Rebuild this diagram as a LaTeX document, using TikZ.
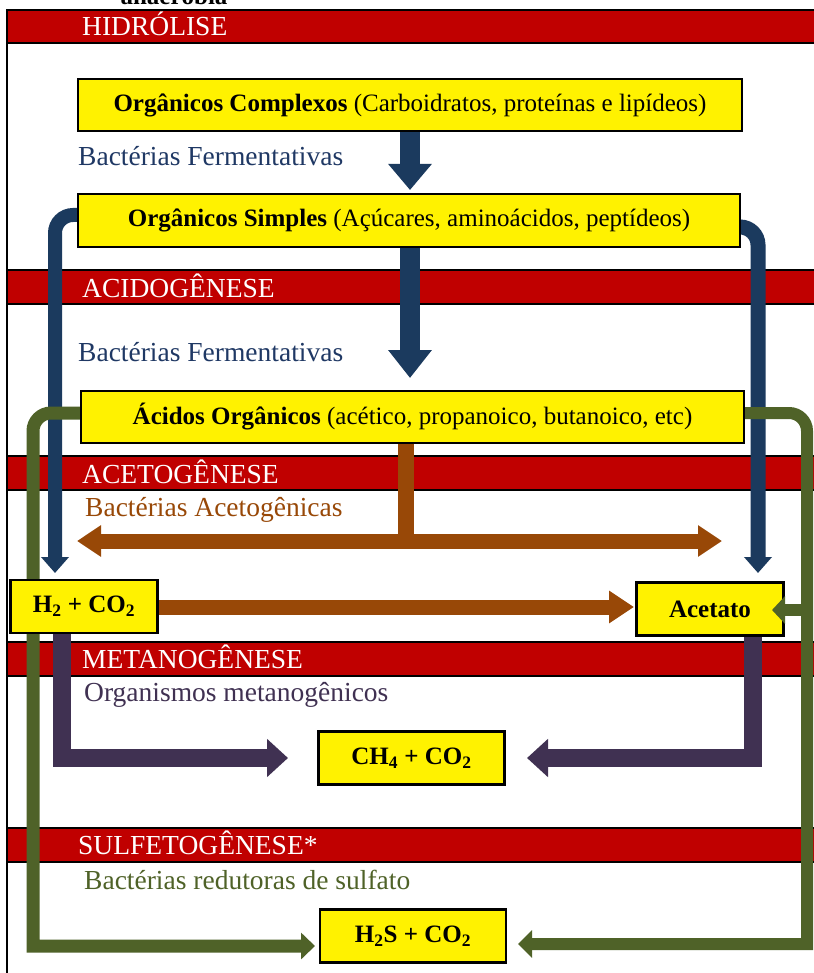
\documentclass[tikz,border=0pt]{standalone}
\usepackage{fontspec}
\setmainfont{Liberation Serif}
\usetikzlibrary{arrows.meta,calc}
\definecolor{bandred}{HTML}{C00000}
\definecolor{ablue}{HTML}{1B3A5E}
\definecolor{tblue}{HTML}{1F3864}
\definecolor{abrown}{HTML}{984807}
\definecolor{apurple}{HTML}{403152}
\definecolor{agreen}{HTML}{4F6228}
\pgfdeclarelayer{bands}
\pgfdeclarelayer{conn}
\pgfsetlayers{bands,conn,main}
\begin{document}
\begin{tikzpicture}[x=1pt,y=-1pt,
  band/.style={draw=black,line width=1.5pt,fill=bandred},
  box/.style={draw=black,line width=2.2pt,fill=yellow,inner sep=0pt,align=center,
    font=\fontsize{25}{28}\selectfont},
  sbox/.style={box,font=\bfseries\fontsize{25}{28}\selectfont},
  phase/.style={anchor=base west,text=white,inner sep=0pt,font=\fontsize{27.5}{30}\selectfont},
  agent/.style={anchor=base west,inner sep=0pt,font=\fontsize{27.5}{30}\selectfont},
  bluearr/.style={draw=ablue,line width=#1},
  brownarr/.style={draw=abrown,line width=#1},
  purparr/.style={draw=apurple,line width=#1},
  greenarr/.style={draw=agreen,line width=#1}]
\useasboundingbox (0,0) rectangle (813,973);
\begin{pgfonlayer}{bands}
\fill[white] (0,0) rectangle (813,973);
\draw[line width=2.2pt] (7,10) rectangle (840,995);
\draw[band] (7,10) rectangle (840,43);
\draw[band] (7,270) rectangle (840,304);
\draw[band] (7,456) rectangle (840,490);
\draw[band] (7,642) rectangle (840,676);
\draw[band] (7,828) rectangle (840,862);
\end{pgfonlayer}
% title (cut off at the top edge, as in the reference)
\node[anchor=base,inner sep=0pt,font=\bfseries\fontsize{25}{28}\selectfont] (title) at (174,5) {anaeróbia};
\node[phase] (p1) at (82,36) {HIDRÓLISE};
\node[phase] (p2) at (82,297) {ACIDOGÊNESE};
\node[phase] (p3) at (82,483) {ACETOGÊNESE};
\node[phase] (p4) at (82,668) {METANOGÊNESE};
\node[phase] (p5) at (78,854) {SULFETOGÊNESE*};
% agents
\node[agent,text=tblue] (a1) at (78,166) {Bactérias Fermentativas};
\node[agent,text=tblue] (a2) at (78,361) {Bactérias Fermentativas};
\node[agent,text=abrown] (a3) at (85,516) {Bactérias Acetogênicas};
\node[agent,text=apurple] (a4) at (84,701) {Organismos metanogênicos};
\node[agent,text=agreen] (a5) at (84,889) {Bactérias redutoras de sulfato};
% boxes
\node[box,minimum width=664pt,minimum height=52pt] (oc) at (410,105) {\textbf{Orgânicos Complexos} (Carboidratos, proteínas e lipídeos)};
\node[box,minimum width=662pt,minimum height=53pt] (os) at (409,220.5) {\textbf{Orgânicos Simples} (Açúcares, aminoácidos, peptídeos)};
\node[box,minimum width=663pt,minimum height=52pt] (ao) at (412.5,417) {\textbf{Ácidos Orgânicos} (acético, propanoico, butanoico, etc)};
\node[sbox,minimum width=147pt,minimum height=53pt] (h2) at (84,606.5) {H\textsubscript{2} + CO\textsubscript{2}};
\node[sbox,minimum width=147pt,minimum height=53pt] (ac) at (710,609) {Acetato};
\node[sbox,minimum width=186pt,minimum height=53pt] (ch) at (411.5,758) {CH\textsubscript{4} + CO\textsubscript{2}};
\node[sbox,minimum width=186pt,minimum height=53pt] (hs) at (413,936) {H\textsubscript{2}S + CO\textsubscript{2}};
% coordinates for connectors
\coordinate (t0) at (410,0);
\coordinate (t1) at (410,190);
\coordinate (t2) at (410,378);
\coordinate (bl1) at (55,215);
\coordinate (bl2) at (55,573);
\coordinate (br1) at (758,227);
\coordinate (br2) at (758,573);
\coordinate (bv) at (406,541);
\coordinate (bL) at (77,541);
\coordinate (bR) at (722,541);
\coordinate (hT) at (634,607);
\coordinate (q1) at (62,758);
\coordinate (q2) at (288,758);
\coordinate (q3) at (753,758);
\coordinate (q4) at (527,758);
\coordinate (g1) at (33,413);
\coordinate (g2) at (33,946);
\coordinate (g3) at (315,946);
\coordinate (g4) at (807,413);
\coordinate (g5) at (807,944);
\coordinate (g6) at (518,944);
\coordinate (g7) at (807,610);
\coordinate (g8) at (772,610);
\begin{pgfonlayer}{conn}
% blue
\draw[bluearr=20pt,-{Triangle[width=42pt,length=26pt]}] (oc.south -| t0) -- (t1);
\draw[bluearr=20pt,-{Triangle[width=42pt,length=28pt]}] (os.south -| t0) -- (t2);
\draw[bluearr=14pt,rounded corners=18pt,-{Triangle[width=27pt,length=16pt]}] (os.west |- bl1) -- (bl1) -- (bl2);
\draw[bluearr=15pt,rounded corners=18pt,-{Triangle[width=27pt,length=16pt]}] (os.east |- br1) -- (br1) -- (br2);
% brown
\draw[brownarr=16pt] (ao.south -| bv) -- (bv);
\draw[brownarr=15pt,{Triangle[width=30pt,length=24pt]}-{Triangle[width=30pt,length=24pt]}] (bL) -- (bR);
\draw[brownarr=15pt,-{Triangle[width=31pt,length=25pt]}] (h2.east |- hT) -- (hT);
% purple
\draw[purparr=18pt,-{Triangle[width=37pt,length=21pt]}] (h2.south -| q1) -- (q1) -- (q2);
\draw[purparr=18pt,-{Triangle[width=37pt,length=21pt]}] (ac.south -| q3) -- (q3) -- (q4);
% green
\draw[greenarr=13pt,-{Triangle[width=26pt,length=14pt]}] (ao.west |- g1) [rounded corners=18pt] -- (g1) [sharp corners] -- (g2) -- (g3);
\draw[greenarr=12pt,-{Triangle[width=27pt,length=14pt]}] (ao.east |- g4) [rounded corners=18pt] -- (g4) [sharp corners] -- (g5) -- (g6);
\end{pgfonlayer}
\draw[greenarr=12pt,-{Triangle[width=27pt,length=13pt]}] (g7) -- (g8);
\end{tikzpicture}
\end{document}
